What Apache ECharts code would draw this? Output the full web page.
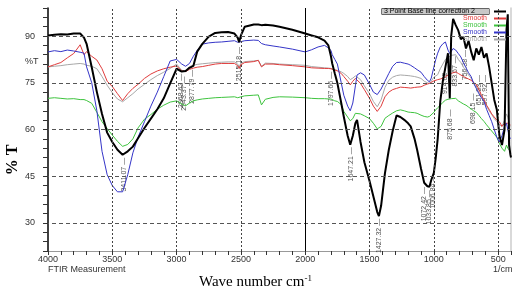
<!DOCTYPE html>
<html>
<head>
<meta charset="utf-8">
<script src="https://cdn.jsdelivr.net/npm/echarts@6/dist/echarts.min.js"></script>
<style>
  html, body { margin: 0; padding: 0; background: #fff; }
  #chart { width: 521px; height: 297px; }
</style>
</head>
<body>
<div id="chart"></div>
<script>
// wave numbers (cm-1) shared by all spectra
const wavenumbers = [4000, 3950, 3900, 3850, 3800, 3750, 3720, 3700, 3660, 3620, 3580, 3540, 3500, 3460, 3420, 3380, 3340, 3300, 3250, 3200, 3150, 3100, 3050, 3000, 2960, 2930, 2900, 2870, 2840, 2800, 2750, 2700, 2650, 2600, 2550, 2525, 2514, 2500, 2470, 2400, 2365, 2340, 2310, 2250, 2200, 2100, 2000, 1950, 1900, 1850, 1820, 1800, 1790, 1770, 1750, 1720, 1700, 1670, 1650, 1630, 1610, 1597, 1570, 1540, 1500, 1470, 1440, 1427, 1410, 1380, 1350, 1320, 1290, 1260, 1230, 1200, 1180, 1150, 1130, 1100, 1075, 1050, 1034, 1020, 1000, 985, 970, 950, 930, 910, 890, 876, 865, 850, 830, 810, 790, 770, 750, 730, 710, 690, 670, 650, 630, 610, 590, 570, 550, 530, 510, 490, 470, 450, 435, 425, 415, 405, 400];

// %T of each curve
const baselineT = [90.2, 90.4, 90.6, 90.5, 90.8, 90.8, 89.5, 87.5, 80.0, 72.0, 65.0, 59.0, 56.0, 53.5, 51.9, 53.0, 54.5, 57.2, 60.5, 63.5, 66.5, 70.0, 74.8, 79.5, 78.6, 78.8, 79.8, 80.4, 85.0, 87.5, 89.8, 91.0, 91.2, 91.3, 90.8, 89.5, 88.0, 90.2, 93.0, 93.7, 93.7, 93.5, 93.6, 93.4, 93.0, 92.0, 90.8, 90.2, 89.6, 88.5, 87.0, 83.5, 81.2, 78.0, 74.9, 68.5, 64.1, 58.0, 55.1, 58.0, 62.0, 63.1, 56.0, 49.5, 43.5, 38.5, 33.5, 32.2, 35.5, 46.0, 53.5, 59.5, 64.5, 64.0, 63.1, 62.0, 61.0, 57.0, 53.5, 47.5, 42.9, 41.8, 41.6, 43.8, 46.1, 51.0, 57.0, 69.0, 75.5, 80.0, 84.5, 70.0, 90.0, 95.5, 93.5, 91.8, 89.0, 89.7, 86.0, 88.5, 85.0, 82.2, 86.0, 84.0, 86.5, 83.0, 84.4, 80.1, 74.8, 69.5, 66.3, 58.0, 55.0, 60.0, 92.0, 97.0, 55.0, 52.0, 51.0];
const smoothBlue = [84.9, 85.3, 85.0, 85.5, 85.2, 84.8, 84.5, 80.1, 75.0, 66.0, 53.0, 45.5, 42.0, 40.0, 40.0, 45.5, 52.5, 57.5, 62.5, 67.5, 72.0, 77.0, 82.0, 82.5, 81.0, 80.3, 81.2, 83.5, 85.4, 87.4, 87.8, 88.0, 88.1, 88.3, 88.5, 88.0, 87.6, 88.2, 88.5, 88.7, 88.6, 87.6, 87.2, 86.8, 86.5, 85.8, 84.9, 85.6, 86.5, 87.0, 86.2, 85.4, 84.0, 82.5, 81.0, 75.0, 71.0, 67.5, 66.0, 68.5, 74.0, 77.5, 78.2, 77.5, 74.5, 72.0, 71.2, 71.6, 73.0, 75.5, 78.0, 80.3, 81.5, 81.6, 81.3, 81.0, 80.6, 79.8, 79.2, 78.4, 77.0, 75.8, 75.3, 76.5, 80.0, 82.5, 84.5, 86.5, 87.5, 88.1, 85.5, 84.4, 85.0, 86.0, 85.5, 84.4, 83.3, 81.5, 79.8, 78.2, 77.0, 74.8, 73.2, 71.5, 70.2, 69.0, 66.5, 64.5, 62.5, 60.0, 57.5, 56.0, 58.0, 61.0, 62.0, 60.0, 58.0, 57.0, 57.0];
const smoothRed = [80.1, 80.8, 81.5, 83.0, 84.4, 87.2, 84.0, 85.0, 83.5, 82.3, 79.5, 75.5, 73.8, 71.5, 69.3, 71.5, 73.2, 74.5, 76.4, 77.8, 78.8, 79.5, 80.0, 80.4, 78.8, 78.6, 79.3, 79.7, 80.0, 80.2, 80.6, 81.0, 81.2, 81.2, 81.2, 80.5, 79.6, 80.8, 81.5, 81.8, 82.2, 80.1, 81.0, 81.0, 80.8, 80.5, 80.1, 79.8, 79.7, 79.6, 79.6, 79.5, 79.3, 79.1, 78.8, 78.0, 77.0, 75.5, 74.3, 75.5, 76.4, 76.0, 74.8, 72.8, 70.0, 67.5, 65.8, 66.2, 67.5, 70.5, 72.0, 72.8, 73.2, 73.6, 73.5, 73.4, 73.3, 73.5, 73.6, 73.7, 74.2, 74.6, 74.8, 75.0, 75.6, 75.8, 76.0, 76.2, 76.5, 76.9, 77.5, 77.8, 78.0, 78.4, 78.5, 78.0, 77.5, 77.0, 76.6, 76.2, 75.8, 75.0, 74.5, 73.0, 71.0, 69.5, 67.8, 66.5, 65.0, 64.0, 63.0, 62.5, 61.0, 62.0, 62.5, 62.0, 62.0, 61.5, 61.5];
const smoothGray = [80.1, 80.3, 80.5, 80.8, 81.0, 81.2, 81.0, 80.6, 80.3, 79.5, 77.0, 74.2, 71.8, 69.8, 68.9, 70.2, 71.5, 73.0, 74.5, 76.0, 77.3, 78.4, 79.6, 81.0, 79.0, 78.8, 80.2, 80.6, 80.9, 81.1, 81.3, 81.5, 81.6, 81.7, 81.7, 81.0, 80.1, 81.3, 81.8, 82.0, 82.2, 80.3, 81.3, 81.2, 81.0, 80.8, 80.6, 80.2, 80.0, 79.8, 79.7, 79.6, 79.5, 79.2, 79.0, 78.5, 78.0, 77.0, 76.0, 76.5, 77.2, 77.0, 76.0, 74.0, 71.5, 69.0, 67.3, 67.8, 69.5, 73.5, 75.8, 76.8, 77.3, 77.5, 77.4, 77.3, 77.2, 77.0, 76.8, 76.4, 75.5, 75.0, 74.8, 75.5, 76.8, 77.2, 77.6, 79.5, 81.0, 82.5, 83.0, 83.4, 83.8, 84.2, 84.0, 82.5, 81.5, 80.0, 78.8, 77.5, 76.5, 75.0, 73.5, 72.0, 70.5, 69.0, 67.5, 66.0, 64.8, 63.5, 62.5, 61.5, 61.0, 63.0, 65.0, 64.0, 62.0, 61.0, 61.0];
const smoothGreen = [70.0, 70.2, 70.0, 69.8, 69.9, 69.6, 69.6, 69.3, 68.4, 65.5, 62.5, 60.3, 58.2, 56.2, 54.6, 55.2, 57.0, 60.5, 63.3, 64.8, 66.5, 67.8, 68.8, 69.2, 68.2, 67.6, 68.5, 69.2, 69.5, 69.8, 70.0, 70.2, 70.3, 70.4, 70.5, 70.2, 69.8, 70.5, 70.8, 71.0, 71.1, 67.9, 69.7, 70.3, 70.5, 70.4, 70.2, 70.0, 69.9, 69.9, 69.8, 69.8, 69.6, 69.2, 69.0, 68.0, 65.8, 64.0, 62.8, 63.5, 65.2, 65.8, 65.0, 64.4, 63.5, 62.0, 60.2, 59.9, 61.0, 63.6, 64.5, 65.3, 66.0, 66.3, 66.0, 65.6, 65.5, 65.4, 65.2, 64.6, 64.2, 64.0, 64.2, 64.6, 65.5, 66.3, 67.0, 67.8, 68.7, 69.4, 69.7, 69.8, 69.9, 70.0, 70.0, 69.2, 68.7, 68.2, 67.8, 67.2, 66.6, 66.0, 65.5, 64.5, 63.5, 62.6, 61.5, 60.5, 59.5, 58.5, 57.5, 55.5, 54.0, 53.0, 55.0, 54.0, 53.5, 53.0, 53.0];

// peak picking labels of the baseline curve
const peakWn = [3411.07, 2968.62, 2943.37, 2877.79, 2515.18, 1797.66, 1647.21, 1427.32, 1072.42, 1033.85, 1006.84, 914.62, 875.68, 833.67, 756.38, 698.15, 651.33, 597.92];
const peakT = [51.4, 78.4, 77.5, 79.7, 87.0, 79.0, 54.8, 31.8, 42.0, 41.0, 46.0, 81.6, 66.9, 84.0, 86.0, 72.0, 78.0, 78.0];
const peakText = ['3411.07', '2968.62', '2943.37', '2877.79', '2515.18', '1797.66', '1647.21', '1427.32', '1072.42', '1033.85', '1006.84', '914.62', '875.68', '833.67', '756.38', '698.15', '651.33', '597.92'];

const gridT = [30, 45, 60, 75, 90];
const gridWn = [3500, 3000, 2500, 1500, 1000, 500];

function pairs(vals) {
  return wavenumbers.map((w, i) => [w, vals[i]]);
}

const names = {
  base: '3 Point Base line correction 2',
  red: 'Smooth',
  green: 'Smooth',
  blue: 'Smooth',
  gray: 'Smooth'
};

const chart = echarts.init(document.getElementById('chart'), null, { renderer: 'canvas' });

const option = {
  animation: false,
  backgroundColor: '#fff',
  textStyle: { fontFamily: 'Arial, Liberation Sans, sans-serif' },
  grid: { left: 48, right: 10, top: 8, bottom: 46 },
  legend: {
    right: 15,
    top: 8,
    orient: 'vertical',
    align: 'right',
    itemWidth: 12,
    itemHeight: 2,
    itemGap: 0,
    icon: 'rect',
    padding: 0,
    textStyle: { fontSize: 7, lineHeight: 6, padding: [0, 2, 0, 0] },
    formatter: n => names[n],
    data: [
      { name: 'base', textStyle: { color: '#000', backgroundColor: '#c8c8c8', borderColor: '#000', borderWidth: 0.5, padding: [0, 14, 0, 2] } },
      { name: 'red', textStyle: { color: '#e03c3c' } },
      { name: 'green', textStyle: { color: '#3ec43e' } },
      { name: 'blue', textStyle: { color: '#3535c8' } },
      { name: 'gray', textStyle: { color: '#a8a8a8' } }
    ]
  },
  xAxis: {
    type: 'value',
    inverse: true,
    min: 400,
    max: 4000,
    interval: 100,
    axisLine: { lineStyle: { color: '#999', width: 1 } },
    axisTick: { length: 4, lineStyle: { color: '#333' } },
    axisLabel: {
      fontSize: 9, color: '#333', margin: 4,
      showMinLabel: true, showMaxLabel: true,
      formatter: v => (v % 500 === 0 ? String(v) : '')
    },
    splitLine: { show: false }
  },
  yAxis: [{
    type: 'value',
    min: 21,
    max: 99,
    interval: 3,
    axisLine: { show: true, lineStyle: { color: '#000', width: 1.5 } },
    axisTick: { length: 5, lineStyle: { color: '#333' } },
    axisLabel: {
      fontSize: 9, color: '#333', margin: 13,
      formatter: v => (v % 15 === 0 ? String(v) : '')
    },
    splitLine: { show: false }
  }, {
    type: 'value',
    position: 'right',
    min: 21,
    max: 99,
    axisLine: { show: true, lineStyle: { color: '#ccc', width: 1.5 } },
    axisTick: { show: false },
    axisLabel: { show: false },
    splitLine: { show: false }
  }],
  graphic: [
    { type: 'text', left: 25, top: 57, style: { text: '%T', font: '9px Arial, Liberation Sans', fill: '#333' } },
    { type: 'text', left: 48, top: 265, style: { text: 'FTIR Measurement', font: '9px Arial, Liberation Sans', fill: '#333' } },
    { type: 'text', left: 493, top: 265, style: { text: '1/cm', font: '9px Arial, Liberation Sans', fill: '#333' } },
    {
      type: 'text', x: 13, y: 160, rotation: Math.PI / 2,
      style: { text: '% T', font: 'bold 16px Liberation Serif', fill: '#000', align: 'center', verticalAlign: 'middle' }
    },
    {
      type: 'text', left: 199, top: 274,
      style: {
        text: '{a|Wave number cm}{b|-1}',
        rich: {
          a: { fontFamily: 'Liberation Serif', fontSize: 15, fill: '#000' },
          b: { fontFamily: 'Liberation Serif', fontSize: 9, fill: '#000', verticalAlign: 'top', padding: [0, 0, 8, 0] }
        }
      }
    }
  ],
  series: [
    {
      name: 'green', type: 'line', data: pairs(smoothGreen), showSymbol: false,
      color: '#3ec43e', lineStyle: { width: 1 },
      markLine: {
        silent: true, symbol: 'none', label: { show: false }, animation: false,
        data: gridT.map(v => ({ yAxis: v, lineStyle: { color: '#555', type: [4, 3], width: 1 } }))
          .concat(gridWn.map(v => ({ xAxis: v, lineStyle: { color: '#444', type: [2, 2], width: 1 } })))
          .concat([{ xAxis: 2000, lineStyle: { color: '#000', type: 'solid', width: 1 } }])
      }
    },
    { name: 'gray', type: 'line', data: pairs(smoothGray), showSymbol: false, color: '#a8a8a8', lineStyle: { width: 1 } },
    { name: 'red', type: 'line', data: pairs(smoothRed), showSymbol: false, color: '#e03c3c', lineStyle: { width: 1 } },
    { name: 'blue', type: 'line', data: pairs(smoothBlue), showSymbol: false, color: '#3535c8', lineStyle: { width: 1 } },
    { name: 'base', type: 'line', data: pairs(baselineT), showSymbol: false, color: '#000', lineStyle: { width: 2 } },
    {
      name: 'peaks', type: 'scatter', symbolSize: 1, silent: true,
      itemStyle: { color: 'rgba(0,0,0,0)' },
      data: peakWn.map((w, i) => [w, peakT[i]]),
      label: {
        show: true, position: 'bottom', distance: 1, rotate: 90,
        align: 'right', verticalAlign: 'middle',
        fontSize: 7, color: '#222',
        formatter: p => peakText[p.dataIndex] + ' \u2014'
      }
    }
  ]
};

chart.setOption(option);
</script>
</body>
</html>
